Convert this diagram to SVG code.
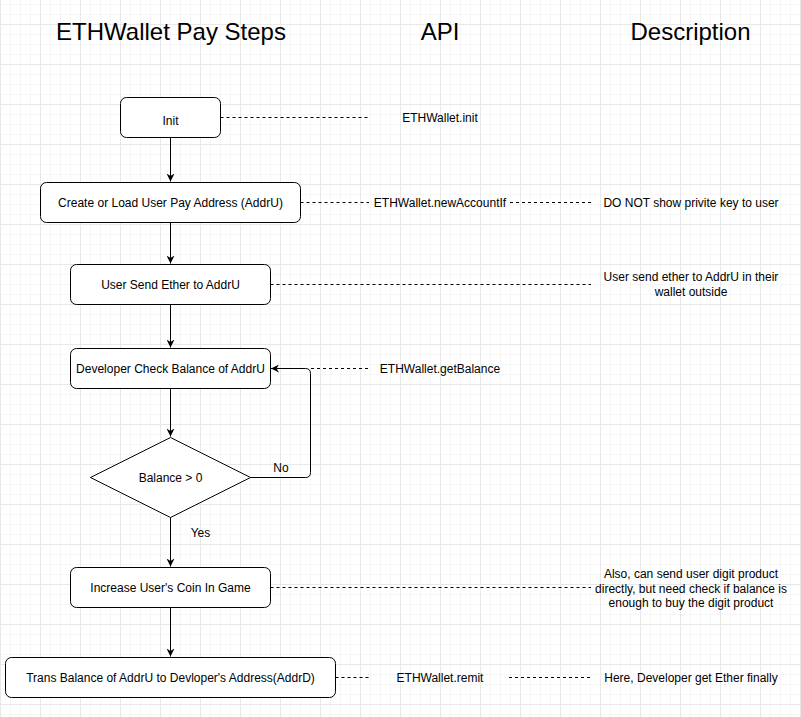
<svg xmlns="http://www.w3.org/2000/svg" width="801" height="717" viewBox="0 0 801 717">
<style>
.t{font-family:"Liberation Sans",Arial,sans-serif;font-size:12px;fill:#000;text-anchor:middle}
.h{font-family:"Liberation Sans",Arial,sans-serif;font-size:24px;fill:#000;text-anchor:middle}
.box{fill:#fff;stroke:#000;stroke-width:1}
.edge{fill:none;stroke:#000;stroke-width:1}
.dash{fill:none;stroke:#000;stroke-width:1;stroke-dasharray:3 3}
</style>
<defs>
<pattern id="minor" patternUnits="userSpaceOnUse" x="0" y="4" width="10" height="10">
<path d="M0.5 0V10M0 0.5H10" stroke="#f6f6f6" stroke-width="1" fill="none"/>
</pattern>
<pattern id="major" patternUnits="userSpaceOnUse" x="0" y="24" width="40" height="40">
<path d="M0.5 0V40M0 0.5H40" stroke="#e8e8e8" stroke-width="1" fill="none"/>
</pattern>
<marker id="arr" viewBox="0 0 10 10" refX="10" refY="5" markerWidth="8" markerHeight="8" markerUnits="userSpaceOnUse" orient="auto">
<path d="M0 0L10 5L0 10L3 5Z" fill="#000"/>
</marker>
</defs>
<rect width="801" height="717" fill="#fff"/>
<rect width="801" height="717" fill="url(#minor)"/>
<rect width="801" height="717" fill="url(#major)"/>

<g id="titles">
<text class="h" x="171" y="40">ETHWallet Pay Steps</text>
<text class="h" x="440" y="40">API</text>
<text class="h" x="690.5" y="40">Description</text>
</g>

<g id="connectors">
<path class="edge" d="M170.5 137.5V181.5" marker-end="url(#arr)"/>
<path class="edge" d="M170.5 222.5V263.5" marker-end="url(#arr)"/>
<path class="edge" d="M170.5 304.5V347.5" marker-end="url(#arr)"/>
<path class="edge" d="M170.5 388.5V436.5" marker-end="url(#arr)"/>
<path class="edge" d="M170.5 517.5V566.5" marker-end="url(#arr)"/>
<path class="edge" d="M170.5 607.5V656.5" marker-end="url(#arr)"/>
<path class="edge" d="M250.5 477.5H305.5Q310.5 477.5 310.5 472.5V373.5Q310.5 368.5 305.5 368.5H271" marker-end="url(#arr)"/>
<path class="dash" d="M220.5 117.5H369"/>
<path class="dash" d="M300.5 202.5H369"/>
<path class="dash" d="M510 202.5H591"/>
<path class="dash" d="M270.5 284.5H591"/>
<path class="dash" d="M311 368.5H369"/>
<path class="dash" d="M270.5 587.5H591"/>
<path class="dash" d="M335.5 677.5H369"/>
<path class="dash" d="M509 677.5H591"/>
</g>

<g id="n-init">
<rect class="box" x="120.5" y="97.5" width="100" height="40" rx="6"/>
<text class="t" x="170.5" y="125">Init</text>
</g>
<g id="n-create">
<rect class="box" x="40.5" y="182.5" width="260" height="40" rx="6"/>
<text class="t" x="170.5" y="207">Create or Load User Pay Address (AddrU)</text>
</g>
<g id="n-send">
<rect class="box" x="70.5" y="264.5" width="200" height="40" rx="6"/>
<text class="t" x="170.5" y="289">User Send Ether to AddrU</text>
</g>
<g id="n-check">
<rect class="box" x="70.5" y="348.5" width="200" height="40" rx="6"/>
<text class="t" x="170.5" y="373">Developer Check Balance of AddrU</text>
</g>
<g id="n-decision">
<path class="box" d="M170.5 437.5L250.5 477.5L170.5 517.5L90.5 477.5Z"/>
<text class="t" x="170.5" y="482">Balance &gt; 0</text>
</g>
<g id="l-no"><text class="t" x="281" y="472">No</text></g>
<g id="l-yes"><text class="t" x="200.5" y="537">Yes</text></g>
<g id="n-increase">
<rect class="box" x="70.5" y="567.5" width="200" height="40" rx="6"/>
<text class="t" x="170.5" y="592">Increase User's Coin In Game</text>
</g>
<g id="n-trans">
<rect class="box" x="5.5" y="657.5" width="330" height="40" rx="6"/>
<text class="t" x="170.5" y="682">Trans Balance of AddrU to Devloper's Address(AddrD)</text>
</g>

<g id="api-init"><text class="t" x="440" y="122">ETHWallet.init</text></g>
<g id="api-new"><text class="t" x="440" y="207">ETHWallet.newAccountIf</text></g>
<g id="api-bal"><text class="t" x="440" y="373">ETHWallet.getBalance</text></g>
<g id="api-remit"><text class="t" x="440" y="682">ETHWallet.remit</text></g>

<g id="d-key"><text class="t" x="691" y="207">DO NOT show privite key to user</text></g>
<g id="d-send">
<text class="t" x="691" y="281">User send ether to AddrU in their</text>
<text class="t" x="691" y="295.5">wallet outside</text>
</g>
<g id="d-digit">
<text class="t" x="691" y="578">Also, can send user digit product</text>
<text class="t" x="691" y="592.5">directly, but need check if balance is</text>
<text class="t" x="691" y="607">enough to buy the digit product</text>
</g>
<g id="d-final"><text class="t" x="691" y="682">Here, Developer get Ether finally</text></g>
</svg>
